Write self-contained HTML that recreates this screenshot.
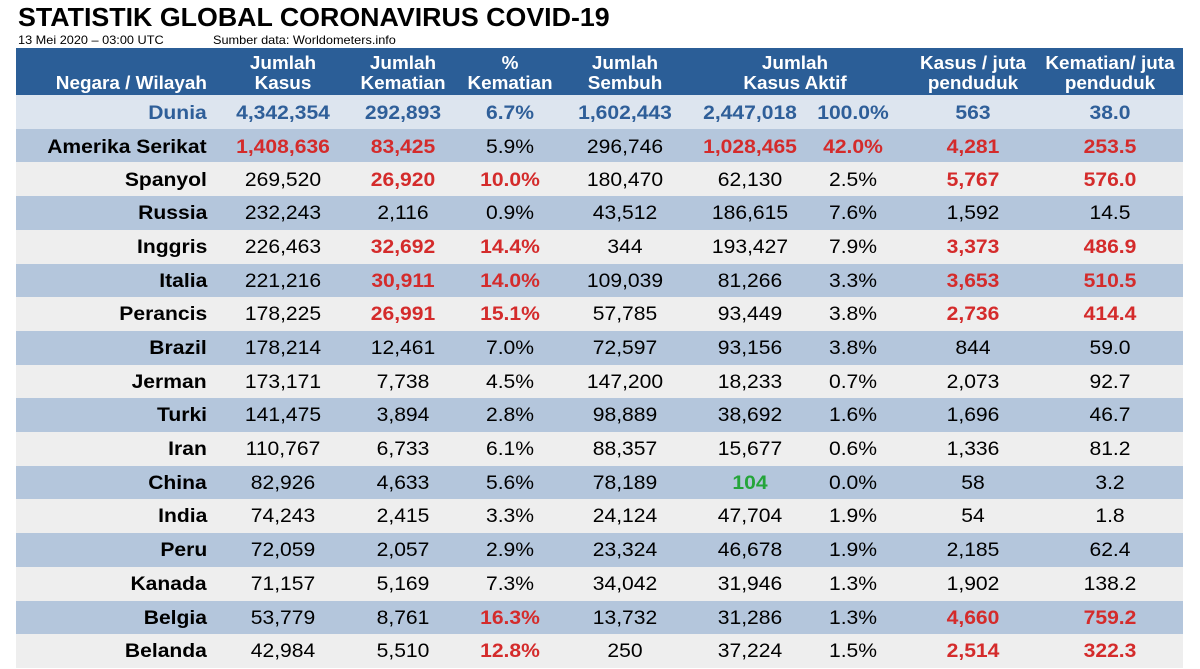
<!DOCTYPE html>
<html><head><meta charset="utf-8"><style>
body{margin:0;width:1200px;height:668px;background:#fff;font-family:"Liberation Sans",sans-serif;overflow:hidden;position:relative}
.a{position:absolute;white-space:nowrap}
.title{left:18px;top:2px;font-size:26px;font-weight:bold;color:#000;transform-origin:left center;transform:scaleX(1.03)}
.sub{top:33px;font-size:12px;color:#000;transform-origin:left center;transform:scaleX(1.06)}
.hdr{left:16px;top:48px;width:1167px;height:47px;background:#2b5e97}
.h{color:#fff;font-weight:bold;font-size:18px;line-height:20px;text-align:center;transform:translateX(-50%) scaleX(1.05)}
.hr{color:#fff;font-weight:bold;font-size:18px;line-height:20px;transform-origin:right center;transform:scaleX(1.05)}
.row{left:16px;width:1167px;height:34px}
.c{font-size:19px;line-height:34px;transform:translateX(-50%) scaleX(1.11)}
.cn{font-size:19px;line-height:34px;font-weight:bold;transform-origin:right center;transform:scaleX(1.11)}
.b{font-weight:bold}.r{color:#d42b2b;font-weight:bold}.g{color:#25a53a;font-weight:bold}
</style></head><body>
<div class="a title">STATISTIK GLOBAL CORONAVIRUS COVID-19</div>
<div class="a sub" style="left:18px">13 Mei 2020 – 03:00 UTC</div>
<div class="a sub" style="left:213px">Sumber data: Worldometers.info</div>
<div class="a hdr"></div>
<div class="a hr" style="right:993px;top:73px">Negara / Wilayah</div>
<div class="a h" style="left:283px;top:53px">Jumlah<br>Kasus</div>
<div class="a h" style="left:403px;top:53px">Jumlah<br>Kematian</div>
<div class="a h" style="left:510px;top:53px">%<br>Kematian</div>
<div class="a h" style="left:625px;top:53px">Jumlah<br>Sembuh</div>
<div class="a h" style="left:795px;top:53px">Jumlah<br>Kasus Aktif</div>
<div class="a h" style="left:973px;top:53px">Kasus / juta<br>penduduk</div>
<div class="a h" style="left:1110px;top:53px">Kematian/ juta<br>penduduk</div>
<script>
const countries=["Dunia","Amerika Serikat","Spanyol","Russia","Inggris","Italia","Perancis","Brazil","Jerman","Turki","Iran","China","India","Peru","Kanada","Belgia","Belanda"];
const values=[
["4,342,354","292,893","6.7%","1,602,443","2,447,018","100.0%","563","38.0"],
["1,408,636","83,425","5.9%","296,746","1,028,465","42.0%","4,281","253.5"],
["269,520","26,920","10.0%","180,470","62,130","2.5%","5,767","576.0"],
["232,243","2,116","0.9%","43,512","186,615","7.6%","1,592","14.5"],
["226,463","32,692","14.4%","344","193,427","7.9%","3,373","486.9"],
["221,216","30,911","14.0%","109,039","81,266","3.3%","3,653","510.5"],
["178,225","26,991","15.1%","57,785","93,449","3.8%","2,736","414.4"],
["178,214","12,461","7.0%","72,597","93,156","3.8%","844","59.0"],
["173,171","7,738","4.5%","147,200","18,233","0.7%","2,073","92.7"],
["141,475","3,894","2.8%","98,889","38,692","1.6%","1,696","46.7"],
["110,767","6,733","6.1%","88,357","15,677","0.6%","1,336","81.2"],
["82,926","4,633","5.6%","78,189","104","0.0%","58","3.2"],
["74,243","2,415","3.3%","24,124","47,704","1.9%","54","1.8"],
["72,059","2,057","2.9%","23,324","46,678","1.9%","2,185","62.4"],
["71,157","5,169","7.3%","34,042","31,946","1.3%","1,902","138.2"],
["53,779","8,761","16.3%","13,732","31,286","1.3%","4,660","759.2"],
["42,984","5,510","12.8%","250","37,224","1.5%","2,514","322.3"]];
const marks=["","rr..rrrr",".rr...rr","",".rr...rr",".rr...rr",".rr...rr","","","","","....g...","","","","..r...rr","..r...rr"];
const colX=[283,403,510,625,750,853,973,1110];
const rowH=33.7, top0=95;
for(let i=0;i<countries.length;i++){
  const y=top0+i*rowH;
  const bg=i===0?"#dde5ef":(i%2===1?"#b4c6dc":"#eeeeee");
  const row=document.createElement("div");
  row.className="a row";row.style.top=y+"px";row.style.background=bg;
  
  
  document.body.appendChild(row);
  const ty=y+(i<3?2:1);
  const cn=document.createElement("div");
  cn.className="a cn";cn.style.right="993px";cn.style.top=ty+"px";
  cn.style.color=i===0?"#2f5f99":"#000";
  cn.textContent=countries[i];
  
  
  document.body.appendChild(cn);
  for(let j=0;j<8;j++){
    const c=document.createElement("div");
    c.className="a c";c.style.left=colX[j]+"px";c.style.top=ty+"px";
    const m=marks[i][j];
    if(i===0){c.style.color="#2f5f99";c.style.fontWeight="bold";}
    else if(m==="r")c.classList.add("r");
    else if(m==="g")c.classList.add("g");
    c.textContent=values[i][j];
    
    
    document.body.appendChild(c);
  }
}
</script>
</body></html>
